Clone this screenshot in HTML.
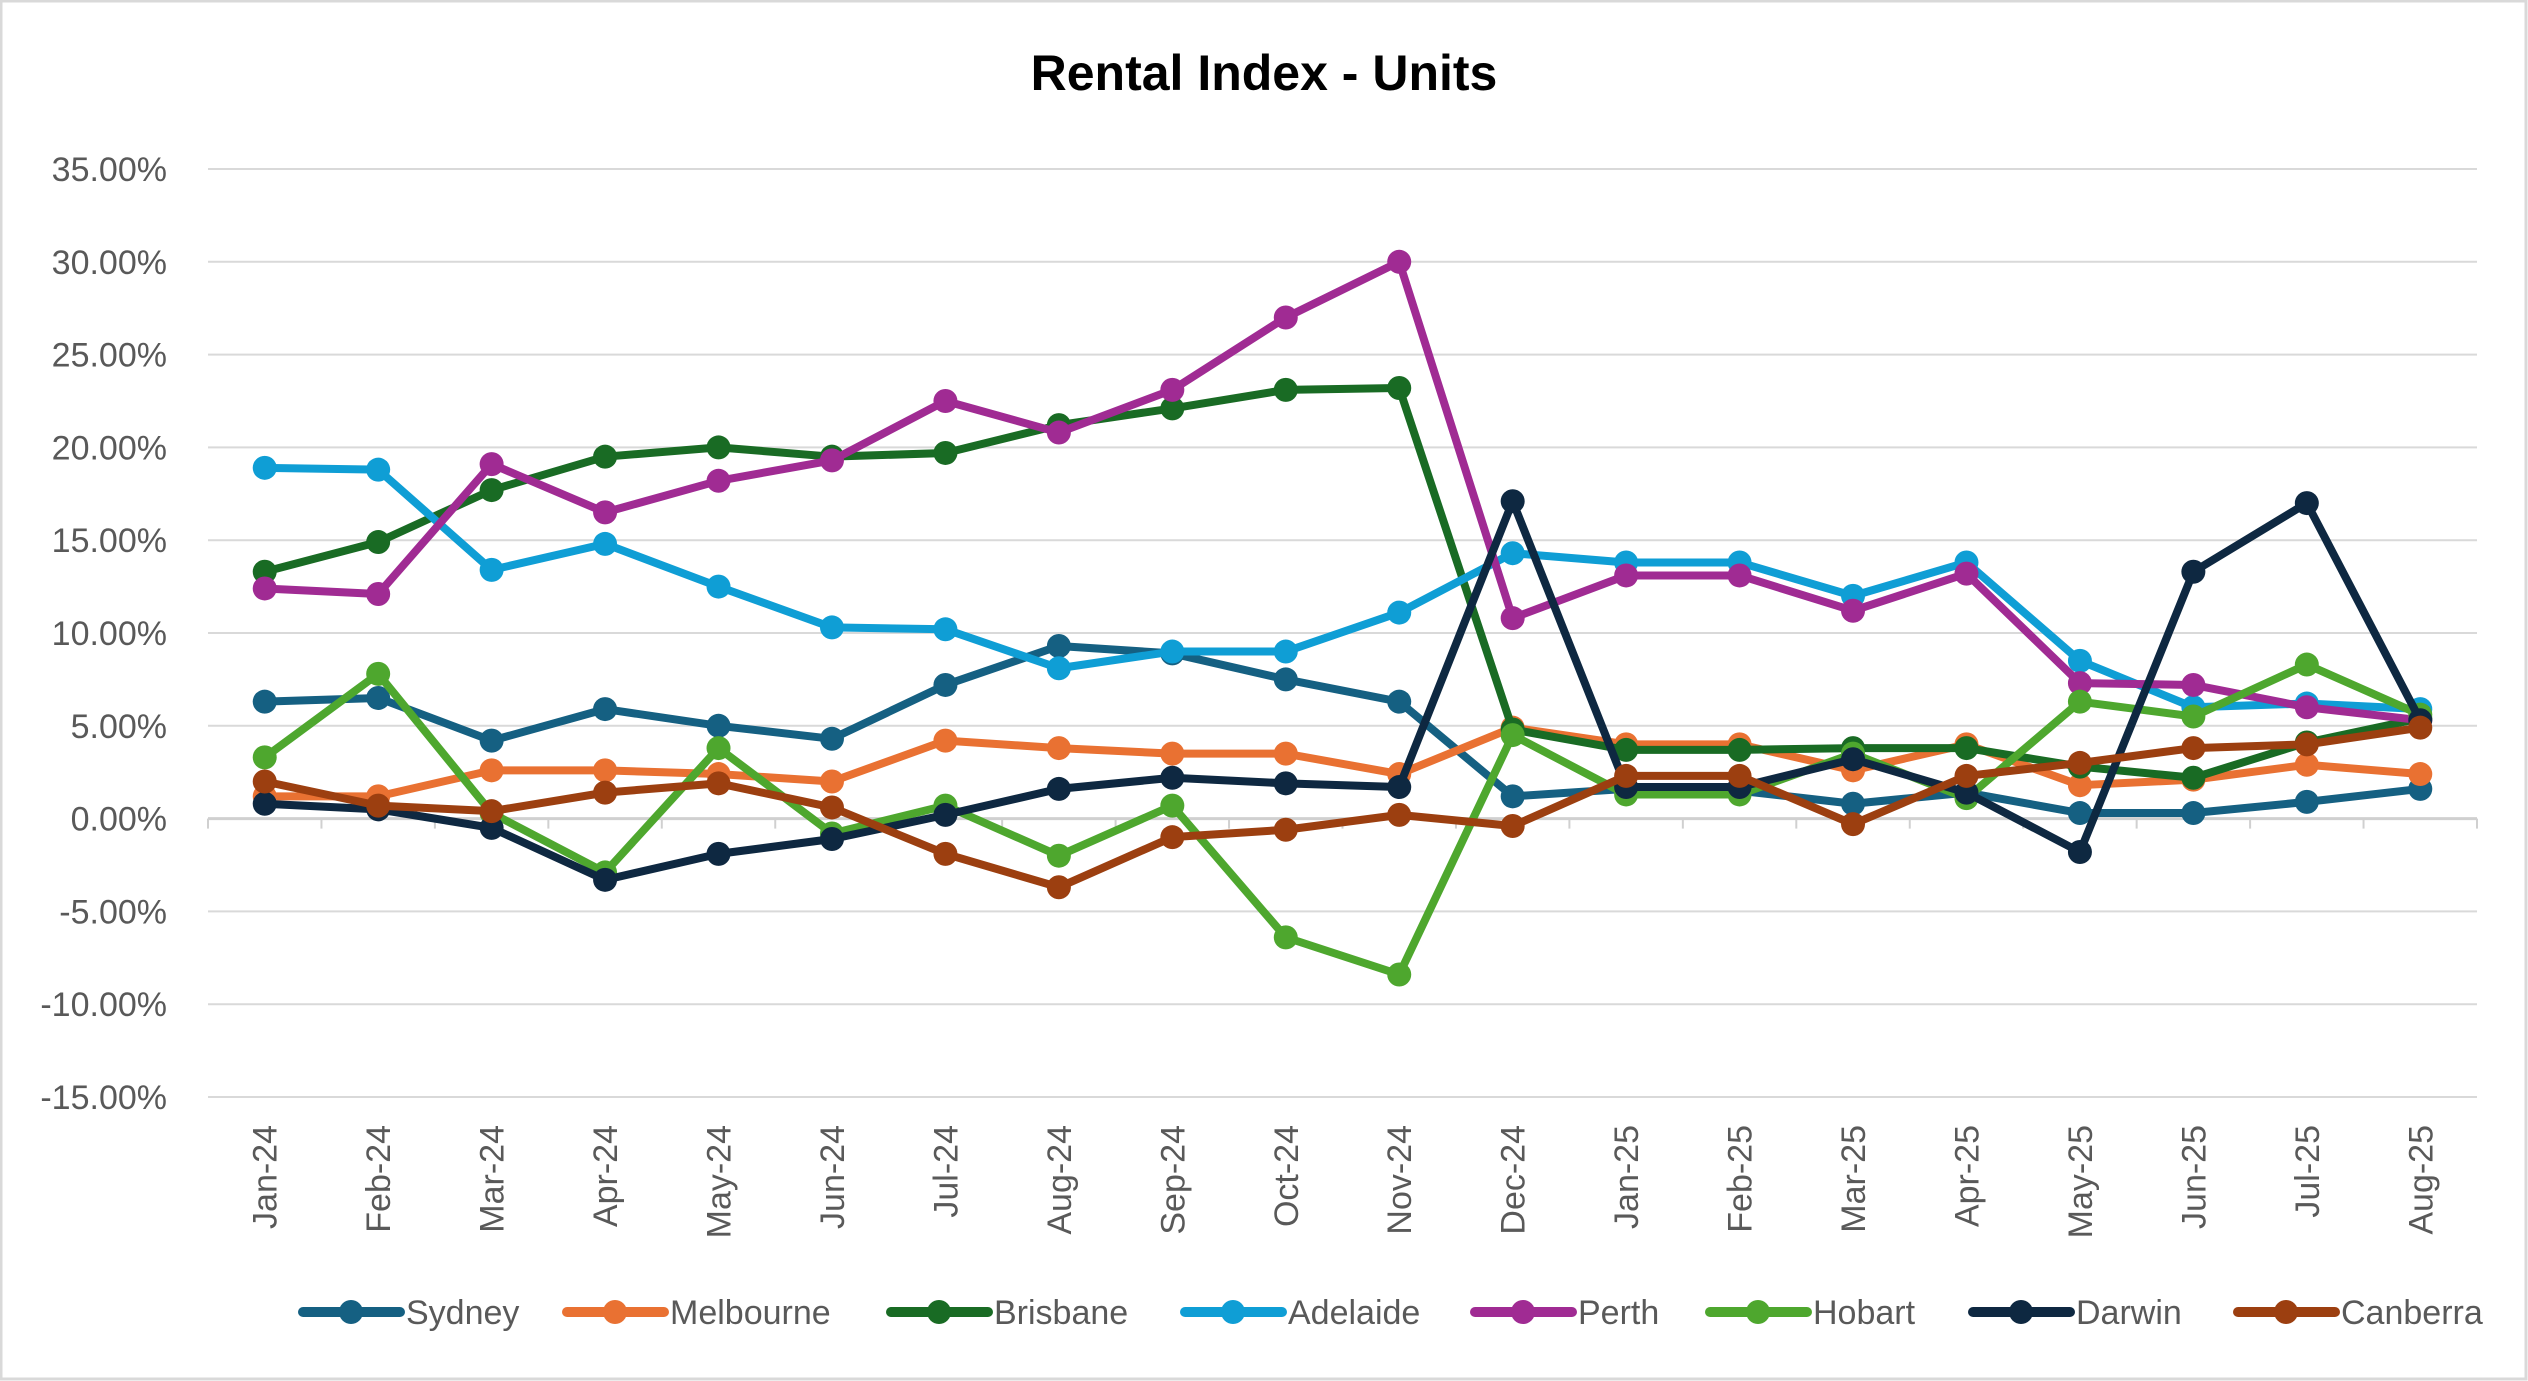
<!DOCTYPE html>
<html><head><meta charset="utf-8"><style>
body{margin:0;background:#fff;}
svg{display:block;font-family:"Liberation Sans",Arial,sans-serif;}
</style></head><body>
<svg id="chart" width="2528" height="1381" viewBox="0 0 2528 1381">
<rect x="1" y="1" width="2525" height="1378" fill="#fff" stroke="#d9d9d9" stroke-width="3"/>
<text x="1264" y="90" text-anchor="middle" font-size="50" font-weight="bold" fill="#000">Rental Index - Units</text>
<g id="grid"></g><g id="yaxis"></g><g id="xaxis"></g><g id="series"></g><g id="legend"></g>
</svg>
<script>
const categories=["Jan-24","Feb-24","Mar-24","Apr-24","May-24","Jun-24","Jul-24","Aug-24","Sep-24","Oct-24","Nov-24","Dec-24","Jan-25","Feb-25","Mar-25","Apr-25","May-25","Jun-25","Jul-25","Aug-25"];
const yTicks=[35,30,25,20,15,10,5,0,-5,-10,-15];
const seriesNames=["Sydney","Melbourne","Brisbane","Adelaide","Perth","Hobart","Darwin","Canberra"];
const seriesColors=["#156082","#E97132","#196B24","#0F9ED5","#A02B93","#4EA72E","#0E2841","#9C3F10"];
const sydney=[6.3,6.5,4.2,5.9,5.0,4.3,7.2,9.3,8.9,7.5,6.3,1.2,1.6,1.5,0.8,1.4,0.3,0.3,0.9,1.6];
const melbourne=[1.2,1.2,2.6,2.6,2.4,2.0,4.2,3.8,3.5,3.5,2.4,4.9,4.0,4.0,2.6,4.0,1.8,2.1,2.9,2.4];
const brisbane=[13.3,14.9,17.7,19.5,20.0,19.5,19.7,21.2,22.1,23.1,23.2,4.8,3.7,3.7,3.8,3.8,2.8,2.2,4.1,5.4];
const adelaide=[18.9,18.8,13.4,14.8,12.5,10.3,10.2,8.1,9.0,9.0,11.1,14.3,13.8,13.8,12.0,13.8,8.5,6.0,6.2,5.9];
const perth=[12.4,12.1,19.1,16.5,18.2,19.3,22.5,20.8,23.1,27.0,30.0,10.8,13.1,13.1,11.2,13.2,7.3,7.2,6.0,5.3];
const hobart=[3.3,7.8,0.3,-2.9,3.8,-0.8,0.7,-2.0,0.7,-6.4,-8.4,4.5,1.3,1.3,3.5,1.1,6.3,5.5,8.3,5.6];
const darwin=[0.8,0.5,-0.5,-3.3,-1.9,-1.1,0.2,1.6,2.2,1.9,1.7,17.1,1.7,1.7,3.2,1.4,-1.8,13.3,17.0,5.3];
const canberra=[2.0,0.7,0.4,1.4,1.9,0.6,-1.9,-3.7,-1.0,-0.6,0.2,-0.4,2.3,2.3,-0.3,2.3,3.0,3.8,4.0,4.9];
const seriesData=[sydney,melbourne,brisbane,adelaide,perth,hobart,darwin,canberra];

const NS="http://www.w3.org/2000/svg";
const plotL=208,plotR=2477,yTop=169,yBot=1097,yMax=35,yMin=-15;
const step=(plotR-plotL)/categories.length;
function x(i){return plotL+step*(i+0.5);}
function y(v){return yTop+(yMax-v)/(yMax-yMin)*(yBot-yTop);}
function mk(tag,attrs,parent){const e=document.createElementNS(NS,tag);for(const k in attrs)e.setAttribute(k,attrs[k]);parent.appendChild(e);return e;}
const grid=document.getElementById('grid'),ya=document.getElementById('yaxis'),xa=document.getElementById('xaxis'),sg=document.getElementById('series'),lg=document.getElementById('legend');
yTicks.forEach(t=>{
  const l=mk('line',{x1:plotL,x2:plotR,y1:y(t),y2:y(t),stroke:t===0?'#d0d0d0':'#d9d9d9','stroke-width':t===0?3:2},grid);
  
  
  const tx=mk('text',{x:167,y:y(t)+12,'text-anchor':'end','font-size':34,fill:'#595959'},ya);
  tx.textContent=t.toFixed(2)+'%';
  
  
});
for(let i=0;i<=categories.length;i++){
  const tk=mk('line',{x1:plotL+step*i,x2:plotL+step*i,y1:y(0),y2:y(0)+10,stroke:'#d0d0d0','stroke-width':2},grid);
  
  
}
categories.forEach((c,i)=>{
  const tx=mk('text',{transform:`translate(${x(i)+12},1125) rotate(-90)`,'text-anchor':'end','font-size':34,fill:'#595959'},xa);
  tx.textContent=c;
  
  
});
seriesData.forEach((d,s)=>{
  const g=mk('g',{},sg);
  
  
  const p=mk('polyline',{points:d.map((v,i)=>x(i)+','+y(v)).join(' '),fill:'none',stroke:seriesColors[s],'stroke-width':8,'stroke-linejoin':'round','stroke-linecap':'round'},g);
  
  
  d.forEach((v,i)=>{
    const c=mk('circle',{cx:x(i),cy:y(v),r:12,fill:seriesColors[s]},g);
    
    
  });
});
const legX=[303,567,891,1185,1475,1710,1973,2238];
seriesNames.forEach((n,s)=>{
  const g=mk('g',{},lg);
  
  
  mk('line',{x1:legX[s],x2:legX[s]+97,y1:1312,y2:1312,stroke:seriesColors[s],'stroke-width':10,'stroke-linecap':'round'},g);
  mk('circle',{cx:legX[s]+48,cy:1312,r:12,fill:seriesColors[s]},g);
  const t=mk('text',{x:legX[s]+103,y:1324,'font-size':34,fill:'#595959'},g);
  t.textContent=n;
});
</script>
</body></html>
